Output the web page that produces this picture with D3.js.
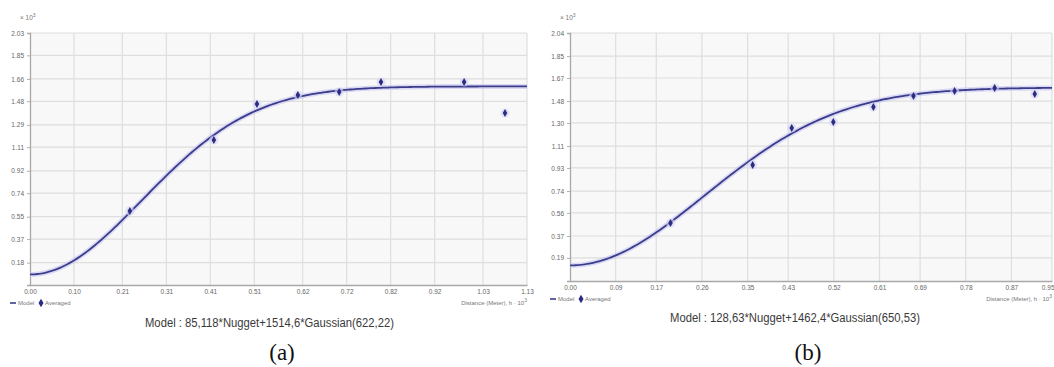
<!DOCTYPE html>
<html>
<head>
<meta charset="utf-8">
<script src="https://cdn.jsdelivr.net/npm/d3@7"></script>
<style>
  body { margin: 0; background: #fff; }
  svg { display: block; }
</style>
</head>
<body>
<div id="chart"></div>
<script>
// data (distance and semivariance, both x10^3)
var distA  = [0.227, 0.418, 0.516, 0.609, 0.703, 0.798, 0.987, 1.080];
var gammaA = [0.596, 1.168, 1.458, 1.531, 1.555, 1.635, 1.635, 1.386];
var distB  = [0.198, 0.360, 0.437, 0.519, 0.598, 0.677, 0.758, 0.837, 0.916];
var gammaB = [0.477, 0.954, 1.259, 1.308, 1.431, 1.522, 1.563, 1.588, 1.538];

// fitted models: nugget, partial sill, range (same units as the axes)
var modelA = [0.085118, 1.5146, 0.62222];
var modelB = [0.12863, 1.4624, 0.65053];

// tick labels
var xTicksA = [0.00, 0.10, 0.21, 0.31, 0.41, 0.51, 0.62, 0.72, 0.82, 0.92, 1.03, 1.13];
var yTicksA = [0.00, 0.18, 0.37, 0.55, 0.74, 0.92, 1.11, 1.29, 1.48, 1.66, 1.85, 2.03];
var xTicksB = [0.00, 0.09, 0.17, 0.26, 0.35, 0.43, 0.52, 0.61, 0.69, 0.78, 0.87, 0.95];
var yTicksB = [0.00, 0.19, 0.37, 0.56, 0.74, 0.93, 1.11, 1.30, 1.48, 1.67, 1.85, 2.04];

var captionA = 'Model : 85,118*Nugget+1514,6*Gaussian(622,22)';
var captionB = 'Model : 128,63*Nugget+1462,4*Gaussian(650,53)';
var legendNames = ['Model', 'Averaged'];

var svg = d3.select('#chart').append('svg')
    .attr('width', 1054)
    .attr('height', 367);

function gaussian(m, h){
    return m[0] + m[1] * (1 - Math.exp(-3 * (h / m[2]) * (h / m[2])));
}

function drawPanel(p){
    var g = svg.append('g');

    var xScale = d3.scaleLinear()
        .domain([p.xTicks[0], p.xTicks[p.xTicks.length-1]])
        .range([p.left, p.right]);
    var yScale = d3.scaleLinear()
        .domain([p.yTicks[0], p.yTicks[p.yTicks.length-1]])
        .range([p.bottom, p.top]);

    // plot background
    g.append('rect')
        .attr('x', p.left).attr('y', p.top)
        .attr('width', p.right - p.left).attr('height', p.bottom - p.top)
        .style('fill', '#f8f8f8');

    // grid
    g.selectAll('.vg').data(p.xTicks.slice(1)).enter().append('line')
        .attr('x1', d => xScale(d)).attr('x2', d => xScale(d))
        .attr('y1', p.top).attr('y2', p.bottom)
        .style('stroke', '#dedede').style('stroke-width', 1.2);
    g.selectAll('.hg').data(p.yTicks.slice(1)).enter().append('line')
        .attr('x1', p.left).attr('x2', p.right)
        .attr('y1', d => yScale(d)).attr('y2', d => yScale(d))
        .style('stroke', '#dedede').style('stroke-width', 1.2);

    // axes
    var xAxis = d3.axisBottom(xScale).tickValues(p.xTicks)
        .tickFormat(d3.format('.2f')).tickSize(0).tickPadding(4);
    var yAxis = d3.axisLeft(yScale).tickValues(p.yTicks.slice(1))
        .tickFormat(d3.format('.2f')).tickSize(3).tickPadding(3);

    var axX = g.append('g')
        .attr('transform', 'translate(0,' + p.bottom + ')')
        .call(xAxis);
    var axY = g.append('g')
        .attr('transform', 'translate(' + p.left + ',0)')
        .call(yAxis);

    [axX, axY].forEach(function(a){
        a.select('.domain').style('stroke', '#a8a8a8').style('stroke-width', 1.3);
        a.selectAll('.tick line').style('stroke', '#b0b0b0');
        a.selectAll('text')
            .style('font-family', 'Liberation Sans, Arial, sans-serif')
            .style('font-size', '6.5px')
            .style('fill', '#666');
    });
    // keep the last x label inside the page
    if(p.endLast)
        axX.selectAll('.tick:last-of-type text').attr('text-anchor', 'end').attr('dx', 2);

    // model curve
    var hs = d3.range(0, xScale.domain()[1] + 0.0001, xScale.domain()[1] / 200);
    var line = d3.line()
        .x(d => xScale(d))
        .y(d => yScale(gaussian(p.model, d)));

    g.append('path').datum(hs)
        .attr('d', line)
        .style('fill', 'none')
        .style('stroke', '#c4c4f2')
        .style('stroke-width', 5)
        .style('stroke-opacity', 0.6);
    g.append('path').datum(hs)
        .attr('d', line)
        .style('fill', 'none')
        .style('stroke', '#3c3c8c')
        .style('stroke-width', 1.8);

    // averaged points
    var pts = p.dist.map((d, i) => ({x: d, y: p.gamma[i]}));
    var diamond = d3.symbol().type(d3.symbolDiamond).size(18);
    g.selectAll('.halo').data(pts).enter().append('circle')
        .attr('cx', d => xScale(d.x)).attr('cy', d => yScale(d.y))
        .attr('r', 4.5)
        .style('fill', '#d4d4f6').style('fill-opacity', 0.6);
    g.selectAll('.pt').data(pts).enter().append('path')
        .attr('d', diamond)
        .attr('transform', d => 'translate(' + xScale(d.x) + ',' + yScale(d.y) + ')')
        .style('fill', '#2c2c80');

    // multiplier above the y axis
    var mul = g.append('text')
        .attr('x', p.left - 10).attr('y', p.top - 13)
        .style('font-family', 'Liberation Sans, Arial, sans-serif')
        .style('font-size', '6.5px')
        .style('fill', '#777');
    mul.append('tspan').text('\u00d7 10');
    mul.append('tspan').attr('dy', -3).style('font-size', '5px').text('3');

    // axis title
    var xt = g.append('text')
        .attr('x', p.right).attr('y', p.bottom + 20)
        .attr('text-anchor', 'end')
        .style('font-family', 'Liberation Sans, Arial, sans-serif')
        .style('font-size', '6px')
        .style('fill', '#777');
    xt.append('tspan').text('Distance (Meter), h \u00b7 10');
    xt.append('tspan').attr('dy', -3).style('font-size', '5px').text('3');

    // legend
    var lg = g.append('g').attr('transform', 'translate(' + (p.left - 20) + ',' + (p.bottom + 20) + ')');
    lg.append('line').attr('x1', 0).attr('x2', 6).attr('y1', -2).attr('y2', -2)
        .style('stroke', '#3c3c8c').style('stroke-width', 1.6);
    lg.append('text').attr('x', 8).attr('y', 0).text(legendNames[0])
        .style('font-family', 'Liberation Sans, Arial, sans-serif')
        .style('font-size', '6px').style('fill', '#777');
    lg.append('path').attr('d', d3.symbol().type(d3.symbolDiamond).size(22))
        .attr('transform', 'translate(31,-2)')
        .style('fill', '#2c2c80');
    lg.append('text').attr('x', 35).attr('y', 0).text(legendNames[1])
        .style('font-family', 'Liberation Sans, Arial, sans-serif')
        .style('font-size', '6px').style('fill', '#777');

    // model caption
    g.append('text')
        .attr('x', p.capX).attr('y', p.capY)
        .attr('textLength', p.capW).attr('lengthAdjust', 'spacingAndGlyphs')
        .text(p.caption)
        .style('font-family', 'Liberation Sans Narrow, Liberation Sans, Arial, sans-serif')
        .style('font-size', '12px')
        .style('fill', '#3a3a3a');

    // panel letter
    g.append('text')
        .attr('x', p.letX).attr('y', 360)
        .attr('text-anchor', 'middle')
        .text(p.letter)
        .style('font-family', 'Liberation Serif, Times New Roman, serif')
        .style('font-size', '23px')
        .style('fill', '#111');
}

drawPanel({
    left: 30, right: 527, top: 33, bottom: 285,
    xTicks: xTicksA, yTicks: yTicksA,
    dist: distA, gamma: gammaA, model: modelA,
    caption: captionA, capX: 145, capY: 327, capW: 249,
    letter: '(a)', letX: 282, endLast: false
});

drawPanel({
    left: 570, right: 1052, top: 33, bottom: 281,
    xTicks: xTicksB, yTicks: yTicksB,
    dist: distB, gamma: gammaB, model: modelB,
    caption: captionB, capX: 670, capY: 322, capW: 250,
    letter: '(b)', letX: 808, endLast: true
});
</script>
</body>
</html>
